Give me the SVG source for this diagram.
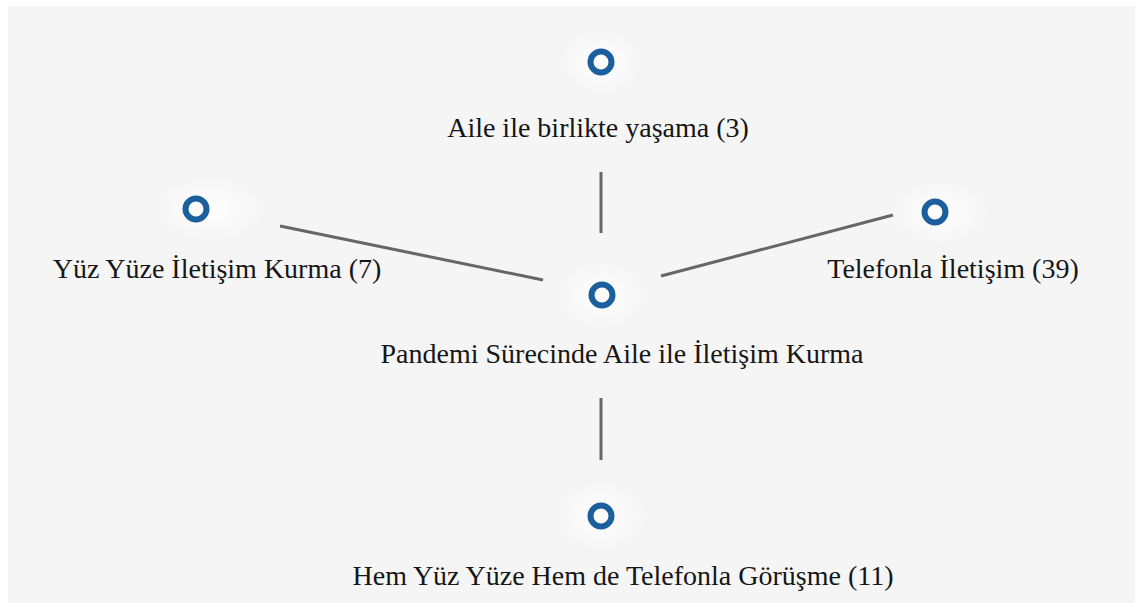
<svg xmlns="http://www.w3.org/2000/svg" width="1135" height="603" viewBox="0 0 1135 603">
  <defs>
    <radialGradient id="halo">
      <stop offset="0" stop-color="#ffffff" stop-opacity="0.9"/>
      <stop offset="0.6" stop-color="#ffffff" stop-opacity="0.4"/>
      <stop offset="1" stop-color="#ffffff" stop-opacity="0"/>
    </radialGradient>
  </defs>
  <style>
    .dot { fill: none; stroke: #1c5f9f; stroke-width: 6; }
    .glow { fill: url(#halo); }
    .lbl { font-family: "Liberation Serif", "Times New Roman", serif; font-size: 28px; fill: #161616; text-anchor: middle; }
    .edge { stroke: #666666; stroke-width: 3; stroke-linecap: butt; }
  </style>
  <rect x="0" y="0" width="1135" height="603" fill="#ffffff"/>
  <rect x="8" y="6" width="1127" height="597" fill="#f5f5f5"/>

  <g id="connectors">
    <line class="edge" x1="601" y1="172" x2="601" y2="233"/>
    <line class="edge" x1="280" y1="226" x2="543" y2="280"/>
    <line class="edge" x1="661" y1="276" x2="893" y2="215"/>
    <line class="edge" x1="601" y1="398" x2="601" y2="460"/>
  </g>

  <g id="node-aile">
    <ellipse class="glow" cx="601" cy="62" rx="40" ry="32"/>
    <circle class="dot" cx="601" cy="62" r="10.5"/>
    <text class="lbl" x="598" y="137">Aile ile birlikte yaşama (3)</text>
  </g>

  <g id="node-yuzyuze">
    <ellipse class="glow" cx="210" cy="209" rx="55" ry="32"/>
    <circle class="dot" cx="196" cy="209" r="10.5"/>
    <text class="lbl" x="217" y="278">Yüz Yüze İletişim Kurma (7)</text>
  </g>

  <g id="node-merkez">
    <ellipse class="glow" cx="602" cy="295" rx="45" ry="34"/>
    <circle class="dot" cx="602" cy="295" r="10.5"/>
    <text class="lbl" x="622" y="363">Pandemi Sürecinde Aile ile İletişim Kurma</text>
  </g>

  <g id="node-telefon">
    <ellipse class="glow" cx="940" cy="212" rx="50" ry="32"/>
    <circle class="dot" cx="935" cy="212" r="10.5"/>
    <text class="lbl" x="953" y="278">Telefonla İletişim (39)</text>
  </g>

  <g id="node-hem">
    <ellipse class="glow" cx="601" cy="516" rx="45" ry="34"/>
    <circle class="dot" cx="601" cy="516" r="10.5"/>
    <text class="lbl" x="623" y="585">Hem Yüz Yüze Hem de Telefonla Görüşme (11)</text>
  </g>
</svg>
